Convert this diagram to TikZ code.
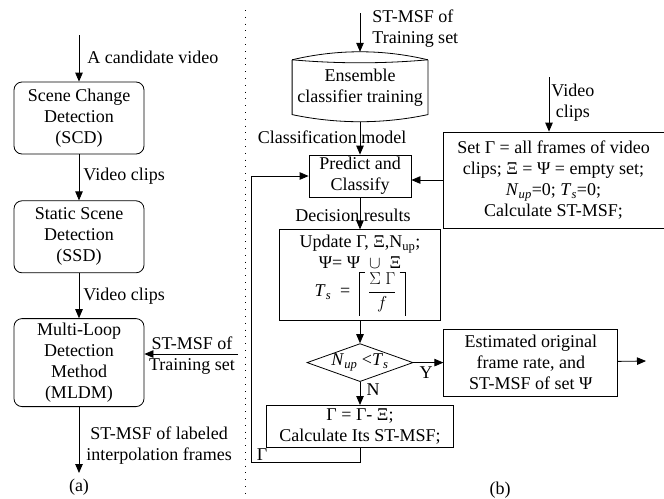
\documentclass[tikz,border=0pt]{standalone}
\usepackage{fontspec}
\setmainfont{Liberation Serif}
\usepackage{amsmath}
\usetikzlibrary{positioning,shapes.geometric,arrows.meta}
\newcommand{\CeilFrac}[2]{\vrule height 25pt depth 19pt width 0.8pt\vrule height 25pt depth -24.2pt width 5pt\,$\dfrac{#1}{#2}$\,\vrule height 25pt depth -24.2pt width 5pt\vrule height 25pt depth 19pt width 0.8pt}
\tikzset{
	stage/.style={draw, rounded corners=8pt, align=center, minimum width=130pt, inner sep=2pt},
	blk/.style={draw, rectangle, align=center, inner sep=2pt},
	lbl/.style={inner sep=0pt, align=center},
}

\begin{document}
\begin{tikzpicture}[x=1pt, y=1pt, line width=0.8pt, >={Triangle[length=9pt,width=7.5pt]},
		every node/.style={font=\fontsize{18}{21}\selectfont}]
		\useasboundingbox (0,0) rectangle (664,-498);

		% Define nodes -- (a)
		\node[stage, minimum height=72pt] (SCD) at (79,-118) {Scene Change\\Detection\\(SCD)};
		\node[stage, minimum height=72pt, below=46pt of SCD] (SSD) {Static Scene\\Detection\\(SSD)};
		\node[stage, minimum height=88pt, below=45pt of SSD] (MLDM) {Multi-Loop\\Detection\\Method\\(MLDM)};
		\coordinate (vin) at (79,-35);
		\coordinate (vout) at (79,-473);
		\coordinate (trA) at (238,-354);

		\node[lbl, anchor=west] (lcand) at (87,-57) {A candidate video};
		\node[lbl, anchor=west] (lclipA) at (83,-176) {Video clips};
		\node[lbl, anchor=west] (lclipB) at (83,-296) {Video clips};
		\node[lbl] (ltrA) at (192,-356) {ST-MSF of\\Training set};
		\node[lbl, anchor=west] (lout) at (86,-446) {ST-MSF of labeled\\interpolation frames};
		\node[lbl] (capA) at (79,-487) {(a)};

		% Define nodes -- (b)
		\node[blk, minimum width=102pt, minimum height=42pt] (pred) at (360,-176) {Predict and\\Classify};
		\node[lbl, minimum width=135pt, minimum height=54pt, above=40pt of pred] (ens) {Ensemble\\classifier training};
		\node[blk, minimum width=161pt, minimum height=91pt, inner sep=1pt, below=32pt of pred] (upd)
			{Update Γ, Ξ,N\textsubscript{up};\\Ψ= Ψ \ $\cup$ \ Ξ\\[2pt]\textit{T}\textsubscript{\textit{s}} \ = \ \CeilFrac{\Sigma\ \Gamma}{f}};
		\node[draw, diamond, aspect=2.8, minimum width=106pt, minimum height=38pt, inner sep=0pt, below=22pt of upd] (dec)
			{\textit{N}\textsubscript{\textit{up}} <\textit{T}\textsubscript{\textit{s}}};
		\node[blk, minimum width=187pt, minimum height=42pt, below=23pt of dec] (gam) {Γ = Γ- Ξ;\\Calculate Its ST-MSF;};
		\node[blk, minimum width=174pt, minimum height=67pt, right=30pt of dec] (est) {Estimated original\\frame rate, and\\ST-MSF of set Ψ};
		\node[blk, minimum width=221pt, minimum height=96pt] (init) at (553.5,-180)
			{Set Γ = all frames of video\\clips; Ξ = Ψ = empty set;\\\textit{N}\textsubscript{\textit{up}}=0; \textit{T}\textsubscript{\textit{s}}=0;\\Calculate ST-MSF;};
		\coordinate (trB) at (360,-13);
		\coordinate (vclip) at (549,-77);
		\coordinate (lp) at (251,-462);
		\coordinate (fin) at (646,-361);

		\node[lbl, anchor=west, align=left] (ltrB) at (372,-28.5) {ST-MSF of\\Training set};
		\node[lbl, anchor=west] (lvclip) at (551,-102.5) {Video\\clips};
		\node[lbl] (lmodel) at (332,-137) {Classification model};
		\node[lbl] (lres) at (353,-215) {Decision results};
		\node[lbl] (lyes) at (426,-373) {Y};
		\node[lbl] (lno) at (373,-390) {N};
		\node[lbl] (lgam) at (262,-455) {Γ};
		\node[lbl] (capB) at (500,-490) {(b)};

		% Ensemble outline
		\draw (ens.north west) .. controls +(45,10.7) and +(-45,10.7) .. (ens.north east);
		\draw (ens.north west) .. controls +(45,-4) and +(-45,-4) .. (ens.north east);
		\draw (ens.north west) -- (ens.south west) .. controls +(45,-9.5) and +(-45,-9.5) .. (ens.south east) -- (ens.north east);

		% Connect the nodes
		\draw[->] (vin) -- (SCD);
		\draw[->] (SCD) -- (SSD);
		\draw[->] (SSD) -- (MLDM);
		\draw[->] (trA) -- (trA -| MLDM.east);
		\draw[->] (MLDM) -- (vout);

		\draw[->] (trB) -- ([yshift=8pt]ens.north);
		\draw[->] ([yshift=-7pt]ens.south) -- (pred);
		\draw[->] (vclip) -- (vclip |- init.north);
		\draw[->] (init.west) -- (init.west -| pred.east);
		\draw[->] (pred) -- (upd);
		\draw[->] (upd) -- (dec);
		\draw[->] (dec) -- (est);
		\draw[->] (est) -- (fin);
		\draw[->] (dec) -- (gam);
		\draw[->] (gam.south) |- (lp) |- (pred.west);

		% Separator
		\draw[dash pattern=on 0.8pt off 6pt] (245,-10) -- (245,-498);
	\end{tikzpicture}
\end{document}
